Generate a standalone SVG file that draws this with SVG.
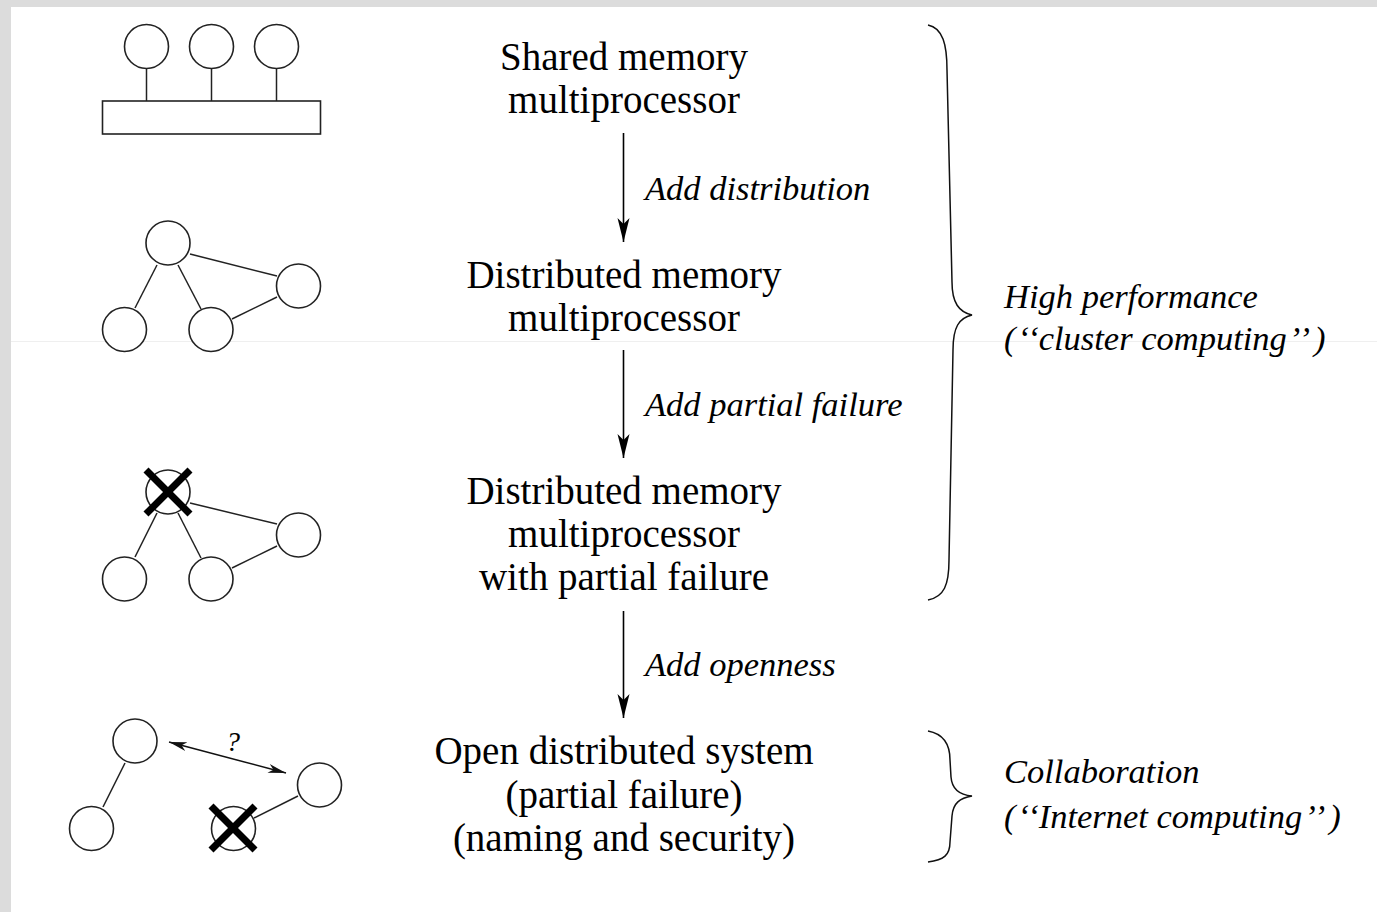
<svg xmlns="http://www.w3.org/2000/svg" width="1377" height="912" viewBox="0 0 1377 912">
  <style>
    .node { fill: #ffffff; stroke: #222222; stroke-width: 1.6; }
    .edge { stroke: #222222; stroke-width: 1.5; fill: none; }
    .cross { stroke: #000000; stroke-width: 7; stroke-linecap: butt; }
    .main { font-family: "Liberation Serif", "Times New Roman", serif; font-size: 39px; fill: #000; text-anchor: middle; }
    .lbl { font-family: "Liberation Serif", "Times New Roman", serif; font-size: 34.5px; font-style: italic; fill: #000; }
    .flow { stroke: #000; stroke-width: 1.6; fill: none; }
    .brace { stroke: #111; stroke-width: 1.5; fill: none; }
  </style>
  <defs>
    <marker id="head" markerUnits="userSpaceOnUse" markerWidth="26" markerHeight="14" refX="24" refY="7" orient="auto" viewBox="0 0 26 14">
      <path d="M0,1 L24,7 L0,13 L6,7 Z" fill="#000"/>
    </marker>
    <marker id="headSmall" markerUnits="userSpaceOnUse" markerWidth="20" markerHeight="10" refX="18" refY="5" orient="auto-start-reverse" viewBox="0 0 20 10">
      <path d="M0,0.5 L18,5 L0,9.5 L5,5 Z" fill="#111"/>
    </marker>
  </defs>

  <!-- page background with grey frame on the left and top -->
  <rect x="0" y="0" width="1377" height="912" fill="#dcdcdc"/>
  <rect x="11" y="7" width="1366" height="905" fill="#ffffff"/>
  <line x1="11" y1="341.5" x2="1377" y2="341.5" stroke="#efefef" stroke-width="1"/>

  <!-- icon: shared memory multiprocessor -->
  <g id="icon-shared">
    <line class="edge" x1="146.5" y1="68.5" x2="146.5" y2="101"/>
    <line class="edge" x1="211.5" y1="68.5" x2="211.5" y2="101"/>
    <line class="edge" x1="276.5" y1="68.5" x2="276.5" y2="101"/>
    <circle class="node" cx="146.5" cy="46.5" r="22"/>
    <circle class="node" cx="211.5" cy="46.5" r="22"/>
    <circle class="node" cx="276.5" cy="46.5" r="22"/>
    <rect class="node" x="102.5" y="101" width="218" height="33"/>
  </g>

  <!-- icon: distributed memory multiprocessor -->
  <g id="icon-distributed">
    <line class="edge" x1="157" y1="265" x2="135" y2="308"/>
    <line class="edge" x1="178" y1="265" x2="201" y2="309"/>
    <line class="edge" x1="190" y1="254" x2="277" y2="276"/>
    <line class="edge" x1="232" y1="319" x2="277" y2="297"/>
    <circle class="node" cx="168" cy="243" r="22"/>
    <circle class="node" cx="298.5" cy="286" r="22"/>
    <circle class="node" cx="124.5" cy="329.5" r="22"/>
    <circle class="node" cx="211" cy="329.5" r="22"/>
  </g>

  <!-- icon: distributed memory with partial failure -->
  <g id="icon-failure">
    <line class="edge" x1="157" y1="513" x2="135" y2="557"/>
    <line class="edge" x1="178" y1="513" x2="201" y2="558"/>
    <line class="edge" x1="190" y1="503" x2="277" y2="524"/>
    <line class="edge" x1="232" y1="568" x2="277" y2="546"/>
    <circle class="node" cx="168" cy="492" r="22"/>
    <circle class="node" cx="298.5" cy="535" r="22"/>
    <circle class="node" cx="124.5" cy="579" r="22"/>
    <circle class="node" cx="211" cy="579" r="22"/>
    <line class="cross" x1="146" y1="470" x2="190" y2="514"/>
    <line class="cross" x1="190" y1="470" x2="146" y2="514"/>
  </g>

  <!-- icon: open distributed system -->
  <g id="icon-open">
    <line class="edge" x1="125" y1="763" x2="103" y2="807"/>
    <line class="edge" x1="254" y1="818" x2="298" y2="796"/>
    <circle class="node" cx="135" cy="741" r="22"/>
    <circle class="node" cx="91.5" cy="828.5" r="22"/>
    <circle class="node" cx="319.5" cy="785" r="22"/>
    <circle class="node" cx="233.5" cy="828.5" r="22"/>
    <line class="cross" x1="211" y1="806" x2="255" y2="850"/>
    <line class="cross" x1="255" y1="806" x2="211" y2="850"/>
    <line x1="169" y1="742" x2="286" y2="773" stroke="#111" stroke-width="1.5" marker-start="url(#headSmall)" marker-end="url(#headSmall)"/>
    <text x="233" y="751" font-family="Liberation Serif, serif" font-style="italic" font-size="28" text-anchor="middle" fill="#000">?</text>
  </g>

  <!-- stage labels -->
  <g id="stage-shared">
    <text class="main" x="624" y="70">Shared memory</text>
    <text class="main" x="624" y="113">multiprocessor</text>
  </g>
  <g id="stage-distributed">
    <text class="main" x="624" y="288">Distributed memory</text>
    <text class="main" x="624" y="331">multiprocessor</text>
  </g>
  <g id="stage-failure">
    <text class="main" x="624" y="504">Distributed memory</text>
    <text class="main" x="624" y="547">multiprocessor</text>
    <text class="main" x="624" y="590">with partial failure</text>
  </g>
  <g id="stage-open">
    <text class="main" x="624" y="764">Open distributed system</text>
    <text class="main" x="624" y="808">(partial failure)</text>
    <text class="main" x="624" y="851">(naming and security)</text>
  </g>

  <!-- transitions between stages -->
  <g id="connectors">
    <line class="flow" x1="623.5" y1="133" x2="623.5" y2="242" marker-end="url(#head)"/>
    <line class="flow" x1="623.5" y1="350" x2="623.5" y2="458" marker-end="url(#head)"/>
    <line class="flow" x1="623.5" y1="611" x2="623.5" y2="718" marker-end="url(#head)"/>
    <text class="lbl" x="645" y="200">Add distribution</text>
    <text class="lbl" x="645" y="416">Add partial failure</text>
    <text class="lbl" x="645" y="676">Add openness</text>
  </g>

  <!-- grouping braces -->
  <g id="group-high-performance">
    <path class="brace" d="M928,25 C943,28 947,45 947,70 L952,282 C952,303 959,312 972,315 C959,318 953,327 953,350 L949,560 C949,585 944,597 928,600"/>
    <text class="lbl" x="1004" y="308">High performance</text>
    <text class="lbl" x="1004" y="350">(<tspan dx="2">‘</tspan><tspan dx="2">‘</tspan>cluster computing<tspan dx="2">’</tspan><tspan dx="2">’</tspan><tspan dx="4">)</tspan></text>
  </g>
  <g id="group-collaboration">
    <path class="brace" d="M928,731 C944,734 950,744 950,760 L951,777 C952,790 960,795 972,796 C960,798 953,803 952,816 L950,842 C950,855 944,860 928,862"/>
    <text class="lbl" x="1004" y="783">Collaboration</text>
    <text class="lbl" x="1004" y="828">(<tspan dx="2">‘</tspan><tspan dx="2">‘</tspan>Internet computing<tspan dx="2">’</tspan><tspan dx="2">’</tspan><tspan dx="4">)</tspan></text>
  </g>
</svg>
